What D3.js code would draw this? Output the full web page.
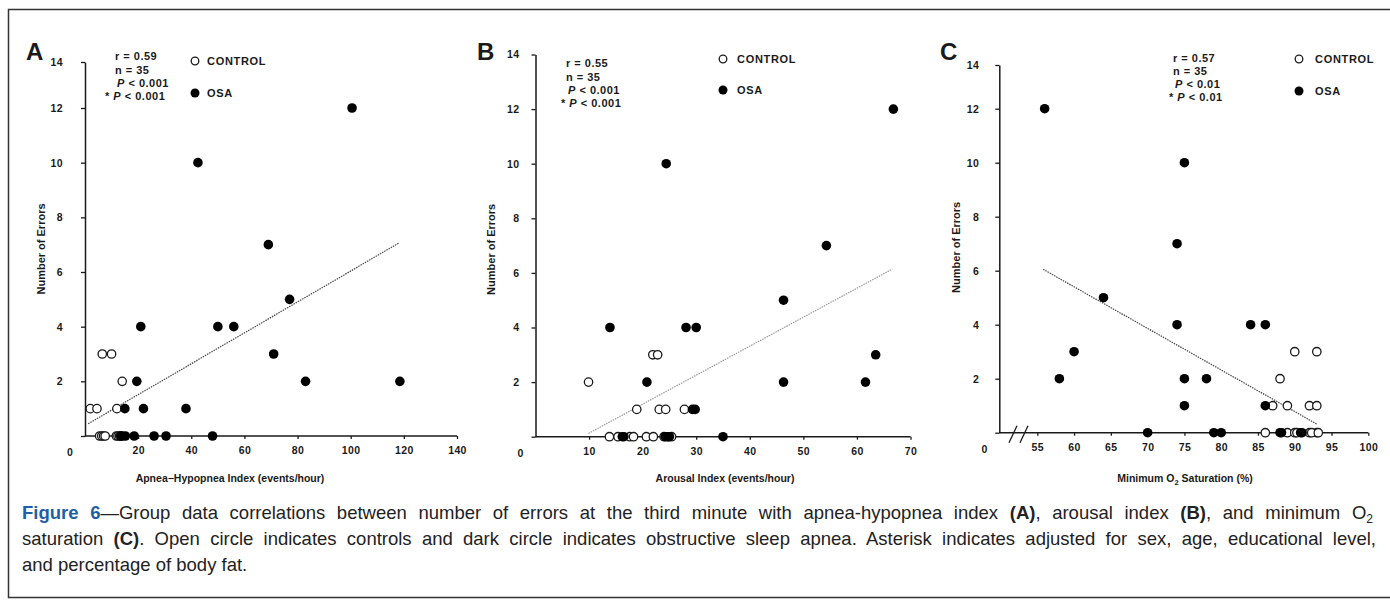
<!DOCTYPE html>
<html>
<head>
<meta charset="utf-8">
<script src="https://cdn.jsdelivr.net/npm/d3@7"></script>
<style>
  body { margin: 0; background: #fff; }
  svg { display: block; font-family: "Liberation Sans", Arial, sans-serif; }
</style>
</head>
<body>
<div id="chart"></div>
<script>
// ---- data ----
const yTicks = [0, 2, 4, 6, 8, 10, 12, 14];

// A: apnea-hypopnea index
const ahiTicks = [20, 40, 60, 80, 100, 120, 140];
const ahiCtrlX = [2, 4.5, 12, 6.5, 10, 14, 5.5, 6.3, 7, 7.6, 11.8, 12.4, 13, 13.5, 14];
const ahiCtrlY = [1, 1, 1, 3, 3, 2, 0, 0, 0, 0, 0, 0, 0, 0, 0];
const ahiOsaX = [100.5, 42.5, 69, 77, 21, 50, 56, 71, 19.5, 83, 118.5, 15, 22, 38, 13.5, 15.2, 18.5, 26, 30.5, 48];
const ahiOsaY = [12, 10, 7, 5, 4, 4, 4, 3, 2, 2, 2, 1, 1, 1, 0, 0, 0, 0, 0, 0];
const ahiFitX = [1.2, 118.3];
const ahiFitY = [0.45, 7.07];
const ahiStats = ["0.59", "35", "0.001", "0.001"];

// B: arousal index
const arTicks = [10, 20, 30, 40, 50, 60, 70];
const arCtrlX = [21.9, 22.8, 9.9, 18.9, 23.1, 24.3, 27.8, 13.8, 15.4, 17.6, 18.3, 20.7, 22, 24, 25.4];
const arCtrlY = [3, 3, 2, 1, 1, 1, 1, 0, 0, 0, 0, 0, 0, 0, 0];
const arOsaX = [24.4, 66.8, 54.3, 46.3, 13.9, 28.1, 30, 63.5, 20.8, 46.3, 61.6, 29.3, 29.8, 35, 16.2, 16.5, 24.2, 24.6, 24.8, 25];
const arOsaY = [10, 12, 7, 5, 4, 4, 4, 3, 2, 2, 2, 1, 1, 0, 0, 0, 0, 0, 0, 0];
const arFitX = [9.9, 66.6];
const arFitY = [0.12, 6.14];
const arStats = ["0.55", "35", "0.001", "0.001"];

// C: minimum O2 saturation
const o2Ticks = [55, 60, 65, 70, 75, 80, 85, 90, 95, 100];
const o2CtrlX = [90, 93, 88, 87, 89, 92, 93, 86, 89, 90, 92, 93, 90.3, 92.3, 93.2];
const o2CtrlY = [3, 3, 2, 1, 1, 1, 1, 0, 0, 0, 0, 0, 0, 0, 0];
const o2OsaX = [56, 75, 74, 64, 74, 84, 86, 60, 58, 75, 78, 75, 86, 70, 79, 80, 88, 88.2, 90.8, 91];
const o2OsaY = [12, 10, 7, 5, 4, 4, 4, 3, 2, 2, 2, 1, 1, 0, 0, 0, 0, 0, 0, 0];
const o2FitX = [55.8, 93];
const o2FitY = [6.05, 0.32];
const o2Stats = ["0.57", "35", "0.01", "0.01"];

const width = 1390, height = 607;

const svg = d3.select("#chart").append("svg")
  .attr("width", width)
  .attr("height", height);

// outer frame
svg.append("rect")
  .attr("x", 8.5).attr("y", 9.5)
  .attr("width", 1400).attr("height", 588)
  .attr("fill", "none").attr("stroke", "#333").attr("stroke-width", 1.5);

// panel layout
const panels = [
  {
    letter: "A", letterX: 26,
    ctrlX: ahiCtrlX, ctrlY: ahiCtrlY, osaX: ahiOsaX, osaY: ahiOsaY,
    fitX: ahiFitX, fitY: ahiFitY, fitColor: "#444", stats: ahiStats,
    xTicks: ahiTicks, xDomain: [0, 140], xRange: [85, 457], x0: 85,
    yDomain: [0, 12, 14], yRange: [436, 108, 62], yPad: 18,
    yTitleX: 41, xTitleX: 230,
    xTitle: ["Apnea\u2212Hypopnea Index (events/hour)"],
    statX: 115, statStarX: 105, statY: [60, 74, 87, 100],
    legX: 195, legY: [61, 93], legTextX: 207
  },
  {
    letter: "B", letterX: 477,
    ctrlX: arCtrlX, ctrlY: arCtrlY, osaX: arOsaX, osaY: arOsaY,
    fitX: arFitX, fitY: arFitY, fitColor: "#999", stats: arStats,
    xTicks: arTicks, xDomain: [0, 70], xRange: [535.5, 910.5], x0: 535.5,
    yDomain: [0, 14], yRange: [436.7, 54.5], yPad: 12,
    yTitleX: 491, xTitleX: 725,
    xTitle: ["Arousal Index (events/hour)"],
    statX: 566, statStarX: 561, statY: [67, 81, 94, 107],
    legX: 723, legY: [59, 90], legTextX: 737
  },
  {
    letter: "C", letterX: 940,
    ctrlX: o2CtrlX, ctrlY: o2CtrlY, osaX: o2OsaX, osaY: o2OsaY,
    fitX: o2FitX, fitY: o2FitY, fitColor: "#444", stats: o2Stats,
    xTicks: o2Ticks, xDomain: [55, 100], xRange: [1037.3, 1368.3], x0: 999.3,
    yDomain: [0, 12, 14], yRange: [432.7, 108.7, 65], yPad: 16,
    yTitleX: 956, xTitleX: 1185,
    xTitle: ["Minimum O", "2", " Saturation (%)"],
    statX: 1173, statStarX: 1169, statY: [62, 75, 88, 101],
    legX: 1299, legY: [59, 91], legTextX: 1315,
    axisBreak: true
  }
];

const ink = "#1a1a1a";
const tickFont = 10.5;

panels.forEach(p => {
  const g = svg.append("g");
  const x = d3.scaleLinear().domain(p.xDomain).range(p.xRange);
  const y = d3.scaleLinear().domain(p.yDomain).range(p.yRange);
  const yBase = y(0);

  // panel letter
  g.append("text")
    .attr("x", p.letterX).attr("y", 60)
    .attr("font-size", 24).attr("font-weight", "bold").attr("fill", ink)
    .text(p.letter);

  // y axis
  const yAx = g.append("g")
    .attr("transform", `translate(${p.x0},0)`)
    .call(d3.axisLeft(y).tickValues(yTicks).tickSize(4).tickSizeOuter(0)
      .tickPadding(p.yPad).tickFormat(d => d === 0 ? "" : d));
  yAx.select(".domain").attr("stroke", ink).attr("stroke-width", 1.5);
  yAx.selectAll(".tick line").attr("stroke", ink).attr("stroke-width", 1.3);
  yAx.selectAll("text").attr("font-size", tickFont).attr("font-weight", "bold")
    .attr("letter-spacing", 0.4)
    .attr("fill", ink).attr("font-family", "Liberation Sans, Arial, sans-serif");

  // x axis
  const xAx = g.append("g")
    .attr("transform", `translate(0,${yBase})`)
    .call(d3.axisBottom(x).tickValues(p.xTicks).tickSize(3).tickSizeOuter(0).tickPadding(8));
  xAx.select(".domain").remove();
  xAx.selectAll(".tick line").attr("stroke", ink).attr("stroke-width", 1.3);
  xAx.selectAll("text").attr("font-size", tickFont).attr("font-weight", "bold")
    .attr("letter-spacing", 0.4)
    .attr("fill", ink).attr("font-family", "Liberation Sans, Arial, sans-serif");
  g.append("line")
    .attr("x1", p.x0).attr("x2", p.xRange[1])
    .attr("y1", yBase).attr("y2", yBase)
    .attr("stroke", ink).attr("stroke-width", 1.5);

  // shared origin label
  g.append("text")
    .attr("x", p.x0 - 15).attr("y", yBase + 20)
    .attr("text-anchor", "middle")
    .attr("font-size", tickFont).attr("font-weight", "bold").attr("fill", ink)
    .text("0");

  if (p.axisBreak) {
    [1013, 1024].forEach(bx => {
      g.append("line")
        .attr("x1", bx - 4).attr("y1", yBase + 10)
        .attr("x2", bx + 4).attr("y2", yBase - 7)
        .attr("stroke", ink).attr("stroke-width", 1.3);
    });
  }

  // axis titles
  g.append("text")
    .attr("transform", `translate(${p.yTitleX},${(yBase + 62) / 2}) rotate(-90)`)
    .attr("text-anchor", "middle")
    .attr("dy", "0.35em")
    .attr("font-size", 11).attr("font-weight", "bold").attr("fill", ink)
    .text("Number of Errors");

  const xt = g.append("text")
    .attr("x", p.xTitleX).attr("y", 482)
    .attr("text-anchor", "middle")
    .attr("font-size", 10.5).attr("font-weight", "bold").attr("fill", ink);
  if (p.xTitle.length === 1) {
    xt.text(p.xTitle[0]);
  } else {
    xt.append("tspan").text(p.xTitle[0]);
    xt.append("tspan").attr("dy", 3).attr("font-size", 7.5).text(p.xTitle[1]);
    xt.append("tspan").attr("dy", -3).text(p.xTitle[2]);
  }

  // regression line
  const fit = d3.zip(p.fitX, p.fitY);
  g.append("path")
    .datum(fit)
    .attr("d", d3.line().x(d => x(d[0])).y(d => y(d[1])))
    .attr("fill", "none")
    .attr("stroke", p.fitColor)
    .attr("stroke-width", 1.2)
    .attr("stroke-dasharray", "1.5,1");

  // points
  g.selectAll(".ctrl")
    .data(d3.zip(p.ctrlX, p.ctrlY))
    .join("circle")
    .attr("cx", d => x(d[0])).attr("cy", d => y(d[1]))
    .attr("r", 4.2)
    .attr("fill", "#fff").attr("stroke", ink).attr("stroke-width", 1.3);

  g.selectAll(".osa")
    .data(d3.zip(p.osaX, p.osaY))
    .join("circle")
    .attr("cx", d => x(d[0])).attr("cy", d => y(d[1]))
    .attr("r", 4.8)
    .attr("fill", "#000");

  // stats block
  const st = g.append("g")
    .attr("font-size", 11).attr("font-weight", "bold")
    .attr("letter-spacing", 0.5).attr("fill", ink);
  st.append("text").attr("x", p.statX).attr("y", p.statY[0]).text("r = " + p.stats[0]);
  st.append("text").attr("x", p.statX).attr("y", p.statY[1]).text("n = " + p.stats[1]);
  const p1 = st.append("text").attr("x", p.statX + 2).attr("y", p.statY[2]);
  p1.append("tspan").attr("font-style", "italic").text("P");
  p1.append("tspan").text(" < " + p.stats[2]);
  const p2 = st.append("text").attr("x", p.statStarX).attr("y", p.statY[3]);
  p2.append("tspan").text("* ");
  p2.append("tspan").attr("font-style", "italic").text("P");
  p2.append("tspan").text(" < " + p.stats[3]);

  // legend
  const lg = g.append("g");
  lg.append("circle")
    .attr("cx", p.legX).attr("cy", p.legY[0]).attr("r", 3.8)
    .attr("fill", "#fff").attr("stroke", ink).attr("stroke-width", 1.3);
  lg.append("circle")
    .attr("cx", p.legX).attr("cy", p.legY[1]).attr("r", 4.5)
    .attr("fill", "#000");
  ["CONTROL", "OSA"].forEach((name, i) => {
    lg.append("text")
      .attr("x", p.legTextX).attr("y", p.legY[i] + 4)
      .attr("font-size", 11).attr("font-weight", "bold")
      .attr("letter-spacing", 0.7).attr("fill", ink)
      .text(name);
  });
});

// ---- caption ----
const capLines = [
  [["Figure 6", "fig"], ["\u2014Group data correlations between number of errors at the third minute with apnea-hypopnea index ", ""],
   ["(A)", "b"], [", arousal index ", ""], ["(B)", "b"], [", and minimum O", ""], ["2", "sub"]],
  [["saturation ", ""], ["(C)", "b"],
   [". Open circle indicates controls and dark circle indicates obstructive sleep apnea. Asterisk indicates adjusted for sex, age, educational level,", ""]],
  [["and percentage of body fat.", ""]]
];
const capY = [519, 545, 571];
const capJustify = [1373, 1376, null];

capLines.forEach((parts, i) => {
  const t = svg.append("text")
    .attr("x", 22).attr("y", capY[i])
    .attr("font-size", 18.5).attr("fill", "#222")
    .attr("font-family", "Liberation Sans, Arial, sans-serif");
  parts.forEach(([s, kind]) => {
    const sp = t.append("tspan").text(s);
    if (kind === "fig") sp.attr("font-weight", "bold").attr("fill", "#1f5fa6");
    if (kind === "b") sp.attr("font-weight", "bold");
    if (kind === "sub") sp.attr("font-size", 12).attr("dy", 4);
  });
  if (capJustify[i]) {
    const w = t.node().getComputedTextLength();
    const spaces = (t.text().match(/ /g) || []).length;
    const ws = (capJustify[i] - 22 - w) / spaces;
    t.attr("word-spacing", ws);
  }
});
</script>
</body>
</html>
